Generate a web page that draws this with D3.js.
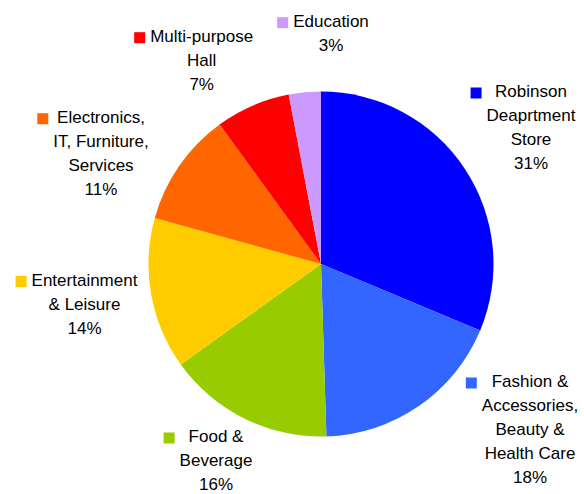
<!DOCTYPE html>
<html>
<head>
<meta charset="utf-8">
<script src="https://cdn.jsdelivr.net/npm/d3@7"></script>
<style>
  html, body { margin: 0; padding: 0; background: #fff; }
  svg { display: block; }
  text { font-family: "Liberation Sans", Arial, sans-serif; }
</style>
</head>
<body>
<div id="chart"></div>
<script>
// ---- data ----
const categories = [
  "Robinson\nDeaprtment\nStore",
  "Fashion &\nAccessories,\nBeauty &\nHealth Care",
  "Food &\nBeverage",
  "Entertainment\n& Leisure",
  "Electronics,\nIT, Furniture,\nServices",
  "Multi-purpose\nHall",
  "Education"
];
const values = [31.3, 18.2, 15.6, 14.2, 10.7, 7.0, 3.0];
const colors = ["#0000FF", "#3366FF", "#99CC00", "#FFCC00", "#FF6600", "#FF0000", "#CC99FF"];
// label block layout: [center x, first baseline y]
const labelAnchors = [
  [531, 97], [530, 387], [216, 442], [84.5, 285.5], [101, 122.7], [201.7, 41.7], [331, 26.7]
];

// ---- chart ----
const W = 584, H = 494;
const cx = 321, cy = 264, R = 172.5;
const fontSize = 17, lineH = 24, markerSize = 11, markerGap = 5;

const svg = d3.select("#chart").append("svg").attr("width", W).attr("height", H);

const total = d3.sum(values);
const pie = d3.pie().sort(null).value(d => d)(values);
const arc = d3.arc().innerRadius(0).outerRadius(R);

svg.append("g").attr("transform", `translate(${cx},${cy})`)
  .selectAll("path").data(pie).join("path")
  .attr("d", arc)
  .attr("fill", (d, i) => colors[i]);

const fmt = v => Math.round(v / total * 100) + "%";

categories.forEach((cat, i) => {
  const lines = cat.split("\n").concat([fmt(values[i])]);
  const [lx, ly] = labelAnchors[i];
  const g = svg.append("g");
  const texts = lines.map((ln, j) =>
    g.append("text")
      .attr("x", lx).attr("y", ly + j * lineH)
      .attr("text-anchor", "middle")
      .attr("font-size", fontSize)
      .attr("fill", "#000")
      .text(ln));
  const maxW = d3.max(texts, t => t.node().getComputedTextLength());
  g.append("rect")
    .attr("x", lx - maxW / 2 - markerGap - markerSize)
    .attr("y", ly - 9.5)
    .attr("width", markerSize).attr("height", markerSize)
    .attr("fill", colors[i]);
});
</script>
</body>
</html>
